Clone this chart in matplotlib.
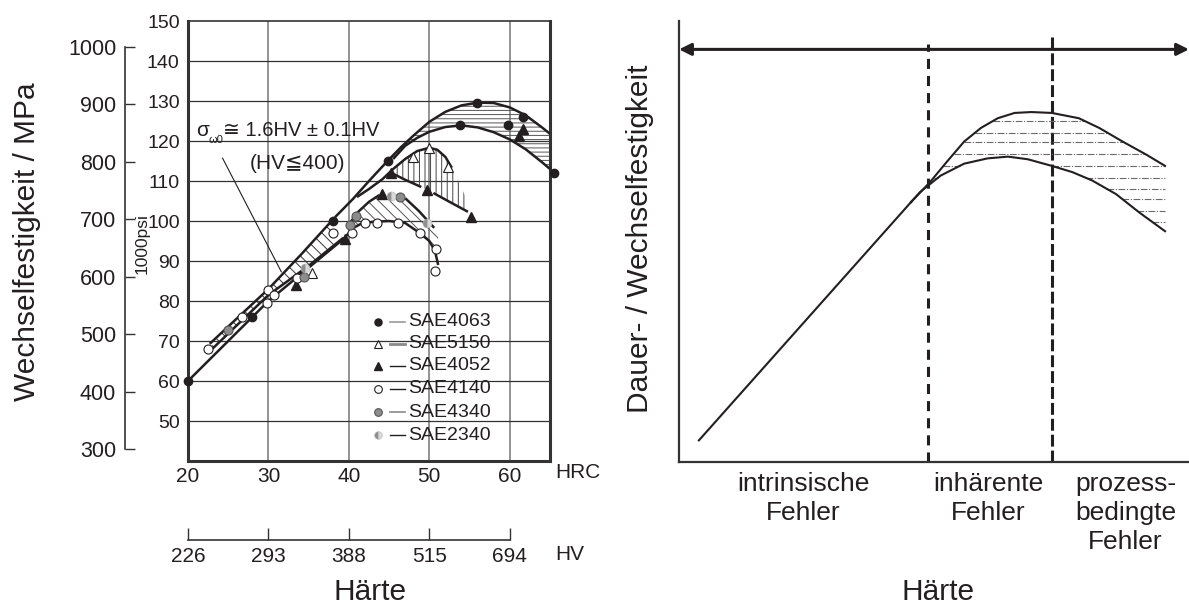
import numpy as np
import matplotlib
matplotlib.use('Agg')
import matplotlib.pyplot as plt

plt.rcParams['font.family'] = ['Liberation Sans', 'DejaVu Sans']
plt.rcParams['hatch.linewidth'] = 0.7
TXT = '#231f20'

# ---------------- data: left panel ----------------
hrc_ticks = [20, 30, 40, 50, 60]
hv_labels = ['226', '293', '388', '515', '694']
ksi_ticks = [50, 60, 70, 80, 90, 100, 110, 120, 130, 140, 150]
mpa_ticks = [300, 400, 500, 600, 700, 800, 900, 1000]

sae4063_x = [20, 28, 38, 44.8, 53.8, 55.9, 59.8, 61.7, 65.5]
sae4063_y = [60, 76, 100, 115, 124, 129.5, 124, 126, 112]
sae5150_x = [35.4, 48, 50, 52.3]
sae5150_y = [87, 116, 118.3, 113.5]
sae4052_x = [33.4, 39.5, 44.1, 45.2, 49.7, 55.2, 61.1, 61.7]
sae4052_y = [84, 95.5, 106.75, 112, 107.75, 101, 121.25, 123]
sae4140_x = [22.5, 26.7, 29.8, 30, 30.7, 33.5, 38, 40.4, 42, 43.5, 46.1, 48.8, 50.8, 50.7]
sae4140_y = [68, 76, 79.5, 82.75, 81.5, 85.75, 97, 97, 99.5, 99.5, 99.5, 97, 93, 87.5]
sae4340_x = [25, 34.4, 40.2, 40.9, 46.3]
sae4340_y = [72.75, 86, 99, 101.25, 106]
sae2340_x = [34.5, 45.2, 49.7]
sae2340_y = [88.25, 106.25, 99.5]

# curves (HRC, 1000 psi)
low_line_x = [20, 30, 36, 39.5]
low_line_y = [60, 80, 90, 95.8]
band_up_x = [22.7, 30, 34, 38.3]
band_up_y = [69.3, 83, 91.5, 101]
band_lo_x = [23.0, 30, 35, 39.3]
band_lo_y = [68, 81.5, 88.8, 95.8]
c4063_up_x = [38.3, 40.5, 42.5, 44.8, 46.5, 48, 50, 52, 54, 56, 58, 60, 62, 64, 65]
c4063_up_y = [101, 105.5, 110, 115, 118.5, 121.3, 124.8, 127.3, 128.9, 129.6, 129.5, 128.4, 126.4, 123.4, 121.8]
c4063_lo_x = [45.5, 47, 48.5, 50, 52, 54, 56, 58, 60, 62, 64, 65]
c4063_lo_y = [115.5, 118.8, 120.8, 122.3, 123.5, 123.9, 123.4, 122.2, 120.4, 117.9, 114.7, 113]
c5150_up_x = [41, 42.5, 44.2, 45.5, 47, 48.5, 50, 51, 52, 52.8]
c5150_up_y = [106, 108, 110.5, 113, 115.5, 117.5, 118.3, 117.8, 116, 113.3]
c5150_lo1_x = [45.5, 47, 49]
c5150_lo1_y = [111.8, 110.3, 108.5]
c5150_lo2_x = [50.5, 52.5, 54.8]
c5150_lo2_y = [107, 104.8, 102.3]
c4340_up_x = [39.8, 41, 42.5, 43.8]
c4340_up_y = [98.5, 102, 104.8, 106.5]
c4340_rt_x = [47, 48.7, 50.6]
c4340_rt_y = [105.7, 102.5, 98.3]
c4140_x = [39.7, 40.5, 41.5, 43, 45, 47, 48.8, 50, 50.7, 51.1]
c4140_y = [96.3, 98.2, 99.3, 99.8, 100, 99.5, 97, 95, 92.5, 89]

# ---------------- data: right panel (relative units) ----------------
lin_x = [3.9, 45.5]
lin_y = [4.9, 58.9]
up_x = [45.5, 49.2, 52.5, 55.9, 59.2, 62.5, 65.8, 69.1, 73.1, 78.4, 82.4, 87.0, 91.7, 95.3]
up_y = [58.9, 63.4, 68.0, 72.6, 75.7, 77.9, 79.1, 79.3, 79.1, 77.9, 75.7, 72.6, 69.6, 67.1]
lo_x = [45.5, 47.3, 51.3, 55.9, 60.5, 64.5, 68.4, 73.1, 77.1, 81.0, 85.7, 90.3, 95.3]
lo_y = [58.9, 61.2, 64.9, 67.6, 68.8, 69.2, 68.6, 67.1, 65.7, 63.8, 60.7, 56.5, 52.3]
hatch_levels = [77.3, 74.6, 72.5, 69.8, 67.1, 64.4, 61.9, 59.6, 56.9, 54.4]
zone_bounds = [48.8, 73.1]
zone_labels = ['intrinsische\nFehler', 'inhärente\nFehler', 'prozess-\nbedingte\nFehler']

W, H = 1189, 607
fig = plt.figure(figsize=(W / 100, H / 100), dpi=100)

def fx(px):
    return px / W

def fy(py):
    return (H - py) / H

# ---------------- left main axes ----------------
ax = fig.add_axes([fx(188), fy(461), (550 - 188) / W, 440 / H])
ax.set_xlim(20, 65)
ax.set_ylim(40, 150)
for v in [30, 40, 50, 60]:
    ax.axvline(v, color='#8a8a8a', lw=1.3, zorder=0)
for v in ksi_ticks[:-1]:
    ax.axhline(v, color='#333333', lw=0.9, zorder=0)
ax.set_xticks(hrc_ticks)
ax.set_yticks(ksi_ticks)
ax.tick_params(length=0, labelsize=15, colors=TXT)
ax.tick_params(axis='x', pad=4)
ax.tick_params(axis='y', pad=6, labelsize=14)
for s in ['left', 'right', 'bottom']:
    ax.spines[s].set_linewidth(2.2)
    ax.spines[s].set_color('#333333')
ax.spines['top'].set_linewidth(1.2)
ax.spines['top'].set_color('#333333')

lk = dict(color=TXT, lw=1.8, solid_capstyle='butt', zorder=3)
ax.plot(low_line_x, low_line_y, **lk)
ax.plot(band_up_x, band_up_y, **lk)
ax.plot(band_lo_x, band_lo_y, **lk)
ax.plot(c4063_up_x, c4063_up_y, **lk)
ax.plot(c4063_lo_x, c4063_lo_y, **lk)
ax.plot(c5150_up_x, c5150_up_y, **lk)
ax.plot(c5150_lo1_x, c5150_lo1_y, **lk)
ax.plot(c5150_lo2_x, c5150_lo2_y, **lk)
ax.plot(c4340_up_x, c4340_up_y, **lk)
ax.plot(c4340_rt_x, c4340_rt_y, **lk)
ax.plot(c4140_x, c4140_y, **lk)

# hatched areas
def hatch_between(xu, yu, xl, yl, hatch, color):
    x0 = max(min(xu), min(xl))
    x1 = min(max(xu), max(xl))
    xg = np.linspace(x0, x1, 300)
    ax.fill_between(xg, np.interp(xg, xl, yl), np.interp(xg, xu, yu),
                    facecolor='none', edgecolor=color, hatch=hatch, linewidth=0, zorder=2)

hatch_between(band_up_x, band_up_y, band_lo_x, band_lo_y, '\\\\\\', '#333333')
hatch_between(c4063_up_x, c4063_up_y, c4063_lo_x, c4063_lo_y, '----', '#555555')
hatch_between(c5150_up_x + [55], c5150_up_y + [104],
              c5150_lo1_x + c5150_lo2_x, c5150_lo1_y + c5150_lo2_y, '|||', '#444444')
hatch_between([39.8, 41, 42.5, 44, 45.5] + c4340_rt_x + [51.2],
              [98.5, 102, 104.8, 106.8, 107] + c4340_rt_y + [96],
              c4140_x, c4140_y, '\\\\\\', '#555555')

styles = [
    ('SAE4063', sae4063_x, sae4063_y, dict(marker='o', ms=6, mfc=TXT, mec=TXT), '#9a9a9a', 1.2),
    ('SAE5150', sae5150_x, sae5150_y, dict(marker='^', ms=6.5, mfc='white', mec=TXT, mew=0.8), '#8a8a8a', 2.0),
    ('SAE4052', sae4052_x, sae4052_y, dict(marker='^', ms=7, mfc=TXT, mec=TXT), TXT, 1.0),
    ('SAE4140', sae4140_x, sae4140_y, dict(marker='o', ms=6.5, mfc='white', mec=TXT, mew=0.8), TXT, 1.0),
    ('SAE4340', sae4340_x, sae4340_y, dict(marker='o', ms=6.5, mfc='#8c8c8c', mec='#555555', mew=0.8), '#8a8a8a', 1.2),
    ('SAE2340', sae2340_x, sae2340_y, dict(marker='o', ms=6.5, fillstyle='left', mfc='#8f8f8f',
                                           mfcalt='#d9d9d9', mec='#b5b5b5', mew=0.4), TXT, 1.0),
]
leg_rows = [0.316, 0.266, 0.216, 0.164, 0.111, 0.059]
for (name, xs, ys, st, lc, lw), ry in zip(styles, leg_rows):
    ax.plot(xs, ys, ls='none', zorder=5, clip_on=False, **st)
    ax.plot([0.525], [ry], ls='none', transform=ax.transAxes, zorder=5,
            **{**st, 'ms': st['ms'] * 0.85})
    ax.plot([0.558, 0.599], [ry, ry], color=lc, lw=lw, transform=ax.transAxes, zorder=5)
    ax.text(0.607, ry, name, transform=ax.transAxes, fontsize=14, color=TXT,
            va='center', ha='left', zorder=6)

# formula annotation
ax.text(20.95, 122.5, 'σ', fontsize=15, color=TXT, va='center', ha='left', zorder=6)
ax.text(22.55, 120.3, 'ω0', fontsize=8, color=TXT, va='center', ha='left', zorder=6)
ax.text(24.35, 122.5, '≅ 1.6HV ± 0.1HV', fontsize=14.5, color=TXT, va='center', ha='left', zorder=6)
ax.text(33.6, 114.4, '(HV≦400)', fontsize=15, color=TXT, va='center', ha='center', zorder=6)
ax.plot([24.3, 31.6], [115.7, 87.3], color=TXT, lw=0.8, zorder=4)

# ---------------- MPa axis ----------------
axm = fig.add_axes([fx(124.5), fy(461), 0.0001, 440 / H])
axm.set_ylim(279.1, 1045.3)
for s in ['top', 'right', 'bottom']:
    axm.spines[s].set_visible(False)
axm.spines['left'].set_bounds(300, 1000)
axm.spines['left'].set_color('#333333')
axm.spines['left'].set_linewidth(1.2)
axm.set_xticks([])
axm.set_yticks(mpa_ticks)
axm.tick_params(axis='y', direction='in', length=7, width=1.0, labelsize=15.5,
                colors='#333333', labelcolor=TXT, pad=6)
axm.patch.set_visible(False)

# ---------------- HV axis ----------------
axh = fig.add_axes([fx(188), fy(540), (550 - 188) / W, 0.0001])
axh.set_xlim(20, 65)
for s in ['top', 'right', 'left']:
    axh.spines[s].set_visible(False)
axh.spines['bottom'].set_bounds(20, 60)
axh.spines['bottom'].set_color('#333333')
axh.spines['bottom'].set_linewidth(1.2)
axh.set_yticks([])
axh.set_xticks(hrc_ticks)
axh.set_xticklabels(hv_labels)
axh.tick_params(axis='x', direction='in', length=9, width=1.0, labelsize=15,
                colors='#333333', labelcolor=TXT, pad=5)
axh.patch.set_visible(False)

fig.text(fx(555), fy(472), 'HRC', fontsize=15, color=TXT, va='center', ha='left')
fig.text(fx(555), fy(555), 'HV', fontsize=15, color=TXT, va='center', ha='left')
fig.text(fx(142.5), fy(244), '1000psi', fontsize=12.5, color=TXT, rotation=90, va='center', ha='center')
fig.text(fx(27), fy(241.5), 'Wechselfestigkeit / MPa', fontsize=21.5, color=TXT,
         rotation=90, va='center', ha='center')
fig.text(fx(370), fy(606.5), 'Härte', fontsize=21.5, color=TXT, va='bottom', ha='center')

# ---------------- right axes ----------------
ax2 = fig.add_axes([fx(679), fy(462), (W - 679) / W, 441.3 / H])
ax2.set_xlim(0, 100)
ax2.set_ylim(0, 100)
ax2.spines['top'].set_visible(False)
ax2.spines['right'].set_visible(False)
for s in ['left', 'bottom']:
    ax2.spines[s].set_linewidth(1.6)
    ax2.spines[s].set_color('#333333')
ax2.set_xticks([])
ax2.set_yticks([])

ax2.annotate('', xy=(100, 93.5), xytext=(0, 93.5),
             arrowprops=dict(arrowstyle='<|-|>', lw=2.2, color=TXT, mutation_scale=18,
                             shrinkA=0, shrinkB=0))
ax2.plot([zone_bounds[0]] * 2, [0, 94.8], color=TXT, lw=2.2, ls=(0, (3.3, 2.3)))
ax2.plot([zone_bounds[1]] * 2, [0, 97.3], color=TXT, lw=2.2, ls=(0, (3.9, 1.3)))

ck = dict(color=TXT, lw=1.5, zorder=3)
ax2.plot(lin_x, lin_y, **ck)
ax2.plot(up_x, up_y, **ck)
ax2.plot(lo_x, lo_y, **ck)

xg = np.linspace(min(up_x), max(up_x), 3000)
ug = np.interp(xg, up_x, up_y)
lg = np.interp(xg, lo_x, lo_y)
for lv in hatch_levels:
    m = (ug >= lv) & (lg <= lv)
    if not m.any():
        continue
    idx = np.flatnonzero(m)
    splits = np.flatnonzero(np.diff(idx) > 1)
    starts = np.r_[idx[0], idx[splits + 1]]
    ends = np.r_[idx[splits], idx[-1]]
    for a, b in zip(starts, ends):
        ax2.plot([xg[a], xg[b]], [lv, lv], color='#6a6a6a', lw=0.8,
                 ls=(0, (6, 1.5, 1, 1.5)), zorder=2)

fig.text(fx(640), fy(239), 'Dauer- / Wechselfestigkeit', fontsize=21.5, color=TXT,
         rotation=90, va='center', ha='center')
for lab, px in zip(zone_labels, [803.6, 988, 1125.5]):
    fig.text(fx(px), fy(472), lab, fontsize=19, color=TXT,
             ha='center', va='top', linespacing=1.27)
fig.text(fx(938), fy(606.5), 'Härte', fontsize=21.5, color=TXT, va='bottom', ha='center')

fig.savefig('out.png', dpi=100)
